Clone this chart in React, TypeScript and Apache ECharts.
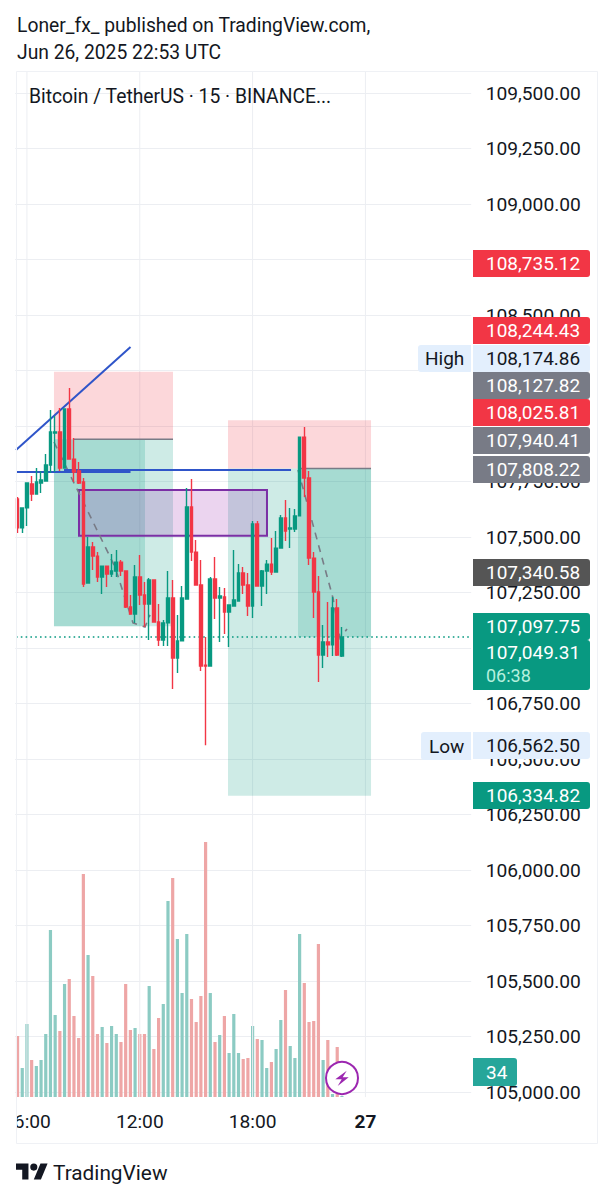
import React, { useEffect, useRef } from "react";
import * as echarts from "echarts";

const GREEN = "#089981";
const RED = "#f23645";
const INK = "#131722";
const FONT = "Roboto";

// [open, close, low, high]
const candles: number[][] = [
  [107671,107541,107518,107680],[107541,107631,107518,107631],[107631,107743,107550,107743],[107739,107694,107662,107775],
  [107694,107748,107694,107811],[107743,107757,107698,107797],[107752,107824,107752,107874],[107824,107973,107788,108072],
  [107968,107973,107793,108045],[107973,107811,107797,108081],[107811,108077,107811,108077],[108077,107851,107851,108171],
  [107851,107793,107748,107946],[107797,107743,107739,107838],[107748,107288,107275,107766],[107293,107455,107293,107500],
  [107455,107414,107351,107477],[107414,107320,107297,107432],[107320,107369,107243,107369],[107369,107333,107275,107369],
  [107333,107347,107320,107423],[107347,107387,107320,107441],[107387,107347,107324,107396],[107347,107185,107180,107347],
  [107185,107153,107153,107239],[107153,107320,107113,107374],[107320,107239,107194,107419],[107239,107198,107095,107297],
  [107198,107306,107036,107315],[107306,107117,107117,107306],[107117,107036,107009,107198],[107036,107113,107009,107126],
  [107113,107225,107009,107347],[107225,106955,106815,107306],[106955,107032,106887,107149],[107032,107225,107032,107279],
  [107221,107635,107221,107721],[107635,107432,107392,107761],[107432,107284,107284,107486],[107284,106919,106896,107396],
  [106923,106919,106562,107050],[106919,107311,106919,107320],[107311,107225,107131,107410],[107225,107234,107027,107275],
  [107230,107162,107063,107270],[107162,107194,107005,107194],[107189,107216,107189,107441],[107212,107338,107212,107378],
  [107338,107284,107243,107365],[107284,107189,107144,107338],[107189,107559,107135,107572],[107559,107279,107279,107572],
  [107279,107347,107189,107351],[107347,107378,107243,107396],[107378,107342,107329,107495],[107342,107450,107342,107527],
  [107450,107586,107450,107599],[107586,107527,107482,107667],[107536,107541,107450,107631],[107536,107595,107523,107626],
  [107595,107950,107595,107950],[107950,107766,107680,107995],[107766,107405,107374,107797],[107405,107252,107135,107432],
  [107252,106968,106847,107324],[106968,107027,106910,107104],[107027,107014,106959,107207],[107014,107180,106964,107230],
  [107180,106968,106964,107221],[106964,107049,106959,107095],
];

const volumes = [
  61,29,73,37,31,37,63,167,82,66,113,118,81,59,223,142,121,63,70,54,71,63,55,113,67,69,63,63,111,48,79,93,196,219,158,104,
  163,98,75,101,255,104,55,62,81,44,83,44,38,39,71,58,57,29,35,48,77,107,51,39,163,114,75,76,153,37,57,3,50,1,
];

const timeTicks: Record<number, string> = { 2: "06:00", 26: "12:00", 50: "18:00", 74: "27" };
const slots = Array.from({ length: 97 }, (_, i) => timeTicks[i] ?? `s${i}`);
const verticalLines = [2, 26, 50, 74];
// axis prices whose labels lie wholly behind a price tag in the reference
const coveredAxisPrices = [108750, 108250, 108000, 107000];

// [left bar, right bar, top price, bottom price]
const redZones = [[7.75, 33.07, 108244.43, 107940.41], [44.77, 75.19, 108025.81, 107808.22]];
const greenZones = [[7.75, 33.07, 107940.41, 107097.75], [44.77, 75.19, 107808.22, 106334.82]];
const profitZones = [[7.75, 27.11, 107940.41, 107097.75], [59.66, 75.19, 107808.22, 107049.31]];
const entryLines = [[12, 33.07, 107940.41], [60.3, 75.19, 107808.22]];
const dashPaths = [
  [[7.75,107928],[20.73,107365],[24.56,107113],[27.11,107095],[28.18,107149]],
  [[59.66,107802],[67.1,107225],[68.6,107045],[70.08,107086]],
];
const blueLines = [
  [[-0.33,107892],[24.03,108356]],
  [[-0.33,107793],[24.03,107793]],
  [[9.88,107802],[58.17,107802]],
];
const purpleBox = [13.07, 53.06, 107712, 107506];
const lastPrice = 107049.31;

// text, top, fill, text colour
const priceTags: [string, number, string, string][] = [
  ["108,735.12", 250, RED, "#ffffff"],
  ["108,244.43", 317, RED, "#ffffff"],
  ["108,174.86", 345, "#e3effd", INK],
  ["108,127.82", 372, "#787b86", "#ffffff"],
  ["108,025.81", 399, RED, "#ffffff"],
  ["107,940.41", 427, "#787b86", "#ffffff"],
  ["107,808.22", 456, "#787b86", "#ffffff"],
  ["107,340.58", 559, "#555555", "#ffffff"],
  ["107,097.75", 613, GREEN, "#ffffff"],
  ["106,562.50", 732, "#e3effd", INK],
  ["106,334.82", 782, GREEN, "#ffffff"],
];

const LOGO =
  "M14 22H7V11H0V4h14v18zM28 22h-8l7.5-18h8L28 22zM24 8a4 4 0 1 1-8 0a4 4 0 1 1 8 0z";

type Drawing = { kind: string; pts: number[][]; style: any };
const drawings: Drawing[] = [
  ...verticalLines.map((i) => ({ kind: "line", pts: [[i, 109599], [i, 104977]], style: { stroke: "#eceef2", lineWidth: 1 } })),
  ...redZones.map((z) => ({ kind: "rect", pts: [[z[0], z[2]], [z[1], z[3]]], style: { fill: "rgba(242,54,69,0.2)" } })),
  ...greenZones.map((z) => ({ kind: "rect", pts: [[z[0], z[2]], [z[1], z[3]]], style: { fill: "rgba(8,153,129,0.2)" } })),
  ...profitZones.map((z) => ({ kind: "rect", pts: [[z[0], z[2]], [z[1], z[3]]], style: { fill: "rgba(8,153,129,0.2)" } })),
  ...entryLines.map((l) => ({ kind: "line", pts: [[l[0], l[2]], [l[1], l[2]]], style: { stroke: "#787b86", lineWidth: 1.5 } })),
  { kind: "rect", pts: [[purpleBox[0], purpleBox[2]], [purpleBox[1], purpleBox[3]]], style: { fill: "rgba(156,39,176,0.2)", stroke: "#7b2fa5", lineWidth: 2 } },
  ...dashPaths.map((p) => ({ kind: "poly", pts: p, style: { stroke: "#787b86", lineWidth: 1.6, lineDash: [7, 6], fill: "none" } })),
  ...blueLines.map((p) => ({ kind: "line", pts: p, style: { stroke: "#2f55c9", lineWidth: 2 } })),
  { kind: "line", pts: [[-0.33, lastPrice], [96, lastPrice]], style: { stroke: GREEN, lineWidth: 1.6, lineDash: [1.6, 3.2] } },
];

const axisText = { fontFamily: FONT, fontSize: 19.2, color: INK };

function tag(text: string, top: number, fill: string, color: string) {
  return [
    { type: "rect", z: 20, shape: { x: 473, y: top, width: 117, height: 27, r: [0, 3, 3, 0] }, style: { fill } },
    { type: "text", z: 21, x: 486, y: top + 13.5, style: { text, fill: color, font: `19px ${FONT}`, textVerticalAlign: "middle" } },
  ];
}
function plainText(text: string, x: number, y: number, font: string, fill = INK) {
  return { type: "text", z: 22, x, y, style: { text, fill, font: `${font} ${FONT}`, textVerticalAlign: "middle" } };
}

export default function App() {
  const ref = useRef<HTMLDivElement>(null);
  useEffect(() => {
    echarts.graphic.registerShape("tvlogo", echarts.graphic.extendPath(LOGO, {}) as any);
    const chart = echarts.init(ref.current!, undefined, { renderer: "svg" });
    chart.setOption({
      animation: false,
      backgroundColor: "#ffffff",
      grid: [
        { left: 15.2, top: 37.5, width: 456, height: 1110 },
        { left: 15.2, top: 71, width: 456, height: 1034 },
      ],
      xAxis: [
        { type: "category", gridIndex: 0, data: slots, show: false, boundaryGap: true },
        { type: "value", gridIndex: 0, min: -0.5, max: 96.5, show: false, splitLine: { show: false } },
        {
          type: "category", gridIndex: 1, data: slots, boundaryGap: true, position: "bottom",
          axisLine: { show: false }, axisTick: { show: false }, splitLine: { show: false },
          axisLabel: {
            ...axisText, margin: 7, hideOverlap: false,
            interval: (i: number) => timeTicks[i] !== undefined,
            formatter: (v: string) => (v === "27" ? "{b|27}" : v),
            rich: { b: { fontFamily: FONT, fontSize: 19, fontWeight: "bold", color: INK } },
          },
        },
      ],
      yAxis: [
        {
          type: "value", gridIndex: 0, position: "right", min: 104750, max: 109750, interval: 250,
          axisLine: { show: false }, axisTick: { show: false },
          splitLine: { show: true, showMinLine: false, showMaxLine: false, lineStyle: { color: "#eceef2", width: 1 } },
          axisLabel: {
            ...axisText, margin: 14.5, showMinLabel: false, showMaxLabel: false, padding: [0, 0, 2, 0],
            formatter: (v: number) =>
              coveredAxisPrices.includes(v) ? "" : v.toLocaleString("en-US", { minimumFractionDigits: 2, maximumFractionDigits: 2 }),
          },
        },
        { type: "value", gridIndex: 1, min: -8, max: 1026, show: false, splitLine: { show: false } },
      ],
      series: [
        {
          type: "bar", xAxisIndex: 2, yAxisIndex: 1, z: 1, barWidth: 3.2,
          data: volumes.map((v, i) => ({
            value: v,
            itemStyle: { color: candles[i][1] >= candles[i][0] ? "#8ccbc3" : "#eea6a6" },
          })),
        },
        {
          type: "custom", xAxisIndex: 1, yAxisIndex: 0, z: 2, clip: false, silent: true,
          data: drawings.map((_, i) => [i, 107000]),
          renderItem: (params: any, api: any) => {
            const d = drawings[params.dataIndex];
            const pts = d.pts.map((p) => api.coord(p));
            if (d.kind === "rect") {
              return { type: "rect", shape: { x: pts[0][0], y: pts[0][1], width: pts[1][0] - pts[0][0], height: pts[1][1] - pts[0][1] }, style: d.style };
            }
            if (d.kind === "line") {
              return { type: "line", shape: { x1: pts[0][0], y1: pts[0][1], x2: pts[1][0], y2: pts[1][1] }, style: d.style };
            }
            return { type: "polyline", shape: { points: pts }, style: d.style };
          },
        },
        {
          type: "candlestick", xAxisIndex: 0, yAxisIndex: 0, z: 3, barWidth: 3.2,
          data: candles,
          itemStyle: { color: GREEN, color0: RED, borderColor: GREEN, borderColor0: RED, borderWidth: 1.4 },
        },
      ],
      graphic: [
        { type: "rect", z: 18, shape: { x: 0, y: 1106, width: 16, height: 36 }, style: { fill: "#ffffff" } },
        { type: "rect", z: 19, shape: { x: 16.5, y: 71.5, width: 581, height: 1072 }, style: { fill: "none", stroke: "#eff1f5", lineWidth: 1 } },
        plainText("Loner_fx_ published on TradingView.com,", 17, 25, "19.3px"),
        plainText("Jun 26, 2025 22:53 UTC", 17, 52, "19.3px"),
        plainText("Bitcoin / TetherUS · 15 · BINANCE...", 29, 96, "19.3px"),
        ...priceTags.flatMap((t) => tag(t[0], t[1], t[2], t[3])),
        { type: "rect", z: 20, shape: { x: 418, y: 345, width: 53, height: 27, r: [3, 0, 0, 3] }, style: { fill: "#e3effd" } },
        plainText("High", 425, 358.5, "19px"),
        { type: "rect", z: 20, shape: { x: 421, y: 732, width: 50, height: 28, r: [3, 0, 0, 3] }, style: { fill: "#e3effd" } },
        plainText("Low", 429, 746, "19px"),
        { type: "rect", z: 20, shape: { x: 473, y: 640, width: 117, height: 50, r: [0, 3, 3, 0] }, style: { fill: GREEN } },
        plainText("107,049.31", 486, 652.5, "19px", "#ffffff"),
        plainText("06:38", 486, 675, "18px", "#b5f0de"),
        { type: "rect", z: 20, shape: { x: 473, y: 1058, width: 44, height: 28, r: [0, 3, 3, 0] }, style: { fill: "#26a69a" } },
        plainText("34", 486, 1072, "19px", "#ffffff"),
        { type: "circle", z: 20, shape: { cx: 342, cy: 1078, r: 16 }, style: { fill: "#ffffff", stroke: "#9c27b0", lineWidth: 2 } },
        { type: "polygon", z: 21, shape: { points: [[346.7,1070.7],[335.3,1079.3],[341.7,1079.3],[337.7,1086],[348.7,1077.3],[342.7,1077.3]] }, style: { fill: "#9c27b0" } },
        { type: "tvlogo", z: 22, x: 16, y: 1160, scaleX: 0.89, scaleY: 0.89, style: { fill: INK } },
        plainText("TradingView", 53, 1173, "20.8px"),
      ],
    });
    return () => chart.dispose();
  }, []);
  return <div ref={ref} style={{ position: "absolute", left: 0, top: 0, width: 613, height: 1200 }} />;
}
